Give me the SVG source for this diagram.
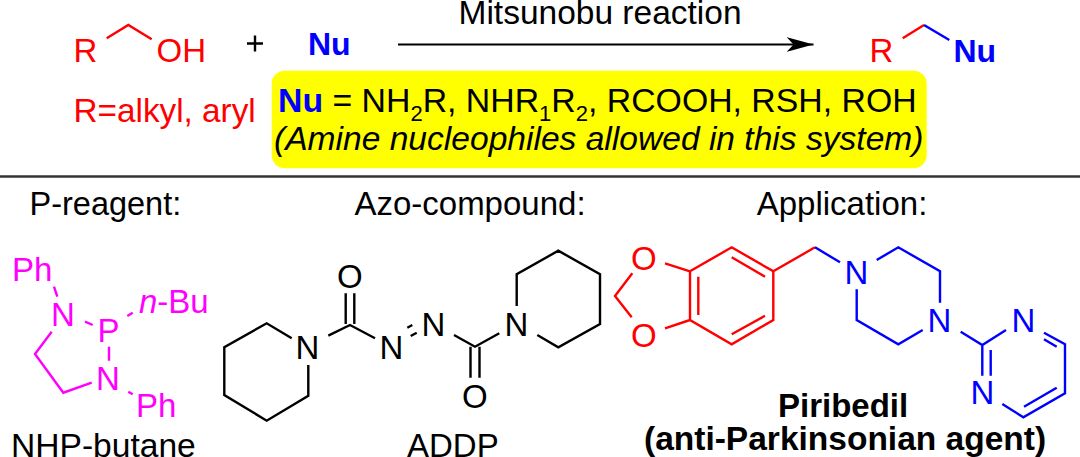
<svg xmlns="http://www.w3.org/2000/svg" width="1080" height="457" viewBox="0 0 1080 457">
<style>
text{font-family:"Liberation Sans",Arial,sans-serif;font-size:33px;fill:#000}
.b{font-weight:700}
.i{font-style:italic}
.r text,text.r{fill:#f00}
.u text,text.u,tspan.u{fill:#00f}
.m text{fill:#f0f}
.c{text-anchor:middle}
.bond{fill:none;stroke-width:2.4;stroke-linejoin:miter;stroke-linecap:butt}
.k{stroke:#000}.rs{stroke:#f00}.bs{stroke:#00f}.ms{stroke:#f0f}
</style>
<defs>
<marker id="head" markerUnits="userSpaceOnUse" markerWidth="28" markerHeight="16" refX="27" refY="8" orient="auto"><path d="M0 .5L27 8L0 15.500L7 8Z" fill="#000"/></marker>
</defs>
<rect width="1080" height="457" fill="#fff"/>
<g id="connectors">
<line id="reaction-arrow" x1="398" y1="44.500" x2="813.500" y2="44.500" stroke="#000" stroke-width="2" marker-end="url(#head)"/>
<line id="divider" x1="0" y1="176.500" x2="1080" y2="176.500" stroke="#333" stroke-width="2.400"/>
</g>
<g id="alcohol" class="r">
<path class="bond rs" d="M106.700 38.300L128.300 25L151.700 39.300"/>
<text x="73.500" y="62.300">R</text><text x="156.500" y="62.300">OH</text>
<text x="73.500" y="121.500" style="font-size:33.300px">R=alkyl, aryl</text>
</g>
<g id="plus"><path class="bond k" d="M247 43.500H263M255 35.500V51.500"/></g>
<g id="nu" class="u"><text class="b" x="308" y="55" style="font-size:32px">Nu</text></g>
<text id="mitsunobu-label" x="458.500" y="23.500" style="font-size:33.500px">Mitsunobu reaction</text>
<g id="product">
<path class="bond rs" d="M902.700 38.300L924 25"/><path class="bond bs" d="M924 25L949.300 40"/>
<text class="r" x="869.500" y="62.300">R</text>
<text class="u b" x="953.500" y="62" style="font-size:32px">Nu</text>
</g>
<g id="scope">
<rect x="271.700" y="70.700" width="655" height="97.600" rx="13" fill="#ff0"/>
<text x="278" y="112.300" style="font-size:33.800px"><tspan class="u b">Nu</tspan> = NH<tspan dy="9" style="font-size:22px">2</tspan><tspan dy="-9">R, NHR</tspan><tspan dy="9" style="font-size:22px">1</tspan><tspan dy="-9">R</tspan><tspan dy="9" style="font-size:22px">2</tspan><tspan dy="-9">, RCOOH, RSH, ROH</tspan></text>
<text class="i" x="274" y="150" style="font-size:33.600px">(Amine nucleophiles allowed in this system)</text>
</g>
<text id="p-label" x="29.500" y="215" style="font-size:32.500px">P-reagent:</text>
<text id="azo-label" class="c" x="470" y="214.500">Azo-compound:</text>
<text id="app-label" class="c" x="842" y="214.500">Application:</text>
<g id="nhp-butane" class="m">
<path class="bond ms" d="M54 286.700L57.300 296.700M85 321.700L92.700 325M127.300 316L132.700 312.700M109 346.700V360.700M128.300 391.700L132.700 394.300M51.700 331.700L35 354L63.300 392.700L91.700 382.700"/>
<text x="12" y="281">Ph</text><text x="51" y="326">N</text><text x="97.500" y="342">P</text>
<text x="139" y="313"><tspan class="i">n</tspan>-Bu</text>
<text x="96" y="390">N</text><text x="136" y="417">Ph</text>
</g>
<text id="nhp-name" x="11" y="457" style="font-size:33.600px">NHP-butane</text>
<g id="addp">
<path class="bond k" d="M291.700 338.300L266.700 323.300L224.300 347.300V395L266.700 420.700L308.300 395.700V365M328.300 335.700L350 325L375 338.300M345.700 293.300V324M354.300 293.300V324M407.300 327.700L412.300 325M410.700 336L416.700 332.700M454 335L475 346.700L499.300 333.300M470.500 346.700V377.700M479.500 346.700V377.700M516.700 306V274.300L558.300 250.700L600 274.300V324L558.300 347.300L537.300 335"/>
<text x="295.500" y="359">N</text><text x="337" y="287.500">O</text><text x="379.500" y="359">N</text><text x="421.500" y="335.500">N</text><text x="462" y="407.500">O</text><text x="504.500" y="335.500">N</text>
</g>
<text id="addp-name" x="407" y="457">ADDP</text>
<g id="piribedil">
<path class="bond rs" d="M632.300 273.300L615 296L631.700 317.300M665 263.300L690 271.300M665 328.300L690 320M690 271.300L731.700 247.300L773.300 271.300V320L731.700 344.300L690 320ZM698.300 276.700V315M731.700 257.300L765 276.700M731.700 334.300L765 315.700M773.300 271.300L815 247.300"/>
<path class="bond bs" d="M815 247.300L840 262.300M876.700 260L898.300 247.300L940 271.300V302.700M856.700 289.300V320L898.300 344.300L922.700 330M960.700 331.700L982.300 345L1006 330M1044 332.700L1065 344.300V393.300L1023.300 417.300L1002.300 404M1044 339.300L1056.700 346.700M1056.700 387.700L1024 406.700M982.300 345V375.700M990.700 350V375.700"/>
<g class="r"><text x="631" y="269.500">O</text><text x="631" y="346.500">O</text></g>
<g class="u"><text x="844.500" y="283.500">N</text><text x="927.500" y="331.500">N</text><text x="1011.500" y="331.500">N</text><text x="970.500" y="404">N</text></g>
</g>
<text id="piribedil-name" class="b" x="778" y="417">Piribedil</text>
<text id="piribedil-note" class="b" x="644" y="450" style="font-size:33.500px">(anti-Parkinsonian agent)</text>
</svg>
